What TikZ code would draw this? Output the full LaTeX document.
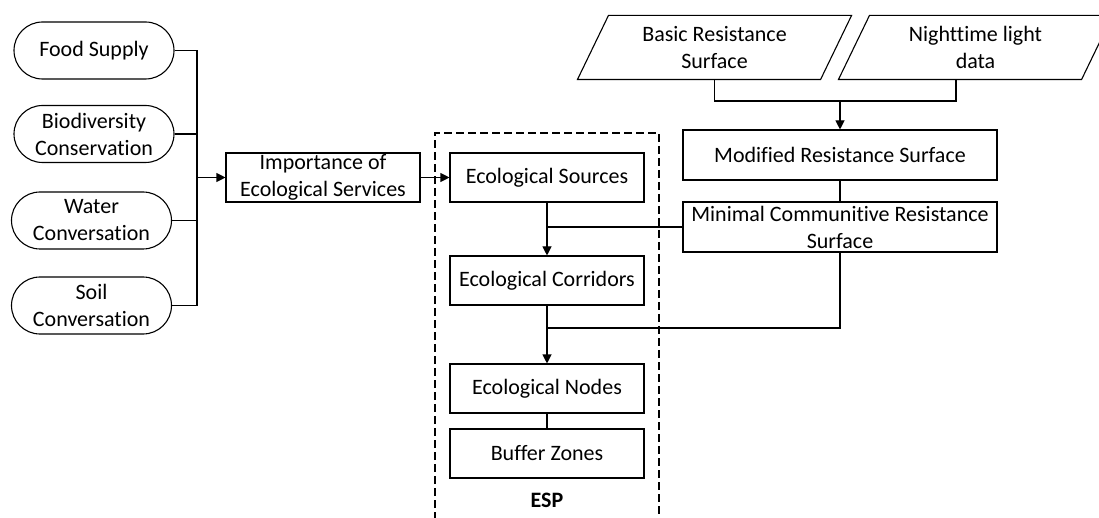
\documentclass[tikz,border=0pt]{standalone}
\usepackage{fontspec}
\setmainfont{Carlito}[Ligatures=NoCommon]
\usetikzlibrary{shapes.misc,arrows.meta,calc}

\newlength{\du}
\setlength{\du}{1pt}

\tikzset{
  esbox/.style={draw, rectangle, minimum width=194\du, minimum height=49\du, inner sep=1\du, align=center},
  svcpill/.style={draw, rounded rectangle, minimum width=162\du, minimum height=57\du, inner sep=1\du, align=center},
  datatext/.style={rectangle, minimum width=211\du, minimum height=63\du, inner sep=1\du, align=center},
  flow/.style={-{Triangle[length=9pt,width=9pt]}},
}

\begin{document}
\begin{tikzpicture}[x=1\du, y=-1\du, line width=1.1\du, font=\fontsize{22}{27}\selectfont]
\useasboundingbox (0,0) rectangle (1099,518);
% ecosystem services
\node[svcpill] (foodsup) at (94,50.5) {Food Supply};
\node[svcpill] (biocons) at (94,134) {Biodiversity\\Conservation};
\node[svcpill] (watercons) at (91.5,220.5) {Water\\Conversation};
\node[svcpill] (soilcons) at (91.5,305.5) {Soil\\Conversation};
\coordinate (bus) at (197,177.5);
\foreach \n in {foodsup,biocons,watercons,soilcons}
  \draw (\n.east) -- (\n.east -| bus);
\draw (foodsup.east -| bus) -- (soilcons.east -| bus);
\node[esbox] (importance) at (323,177.5) {Importance of\\Ecological Services};
\draw[flow] (bus) -- (importance.west);
% ESP
\draw[dash pattern=on 8pt off 4pt] (435,520) -- (435,133) -- (659,133) -- (659,520);
\node[esbox] (ecosrc) at (547,177.5) {Ecological Sources};
\node[esbox] (ecocor) at (547,280.5) {Ecological Corridors};
\node[esbox] (econod) at (547,388.5) {Ecological Nodes};
\node[esbox] (bufzone) at (547,453.5) {Buffer Zones};
\node[font=\fontsize{22}{27}\selectfont\bfseries] (esp) at (547,500) {ESP};
\draw[flow] (importance.east) -- (ecosrc.west);
% resistance surfaces
\node[datatext] (basicres) at (714.5,47.5) {Basic Resistance\\Surface};
\node[datatext] (nightlight) at (975.5,47.5) {Nighttime light\\data};
\foreach \n in {basicres,nightlight}
  \draw ($(\n.south west)+(-31,0)$) -- (\n.north west) -- ($(\n.north east)+(31,0)$) -- (\n.south east) -- cycle;
\node[esbox, minimum width=314\du, minimum height=50\du] (modres) at (840,155) {Modified Resistance Surface};
\node[esbox, minimum width=314\du, minimum height=50\du, inner ysep=0pt] (mincum) at (840,227) {Minimal Communitive Resistance\\Surface};
\coordinate (dj) at (840,101);
\coordinate (nightx) at ([xshift=-19.5pt]nightlight.south);
\draw (basicres.south) -- (basicres.south |- dj) -- (nightx |- dj) -- (nightx);
\draw[flow] (dj) -- (modres.north);
\draw (modres.south) -- (mincum.north);
% links into ESP
\coordinate (cj) at (547,328);
\draw (mincum.west) -- (mincum.west -| ecosrc.south);
\draw[flow] (ecosrc.south) -- (ecocor.north);
\draw (mincum.south) |- (cj);
\draw[flow] (ecocor.south) -- (econod.north);
\draw (econod.south) -- (bufzone.north);
\end{tikzpicture}
\end{document}
